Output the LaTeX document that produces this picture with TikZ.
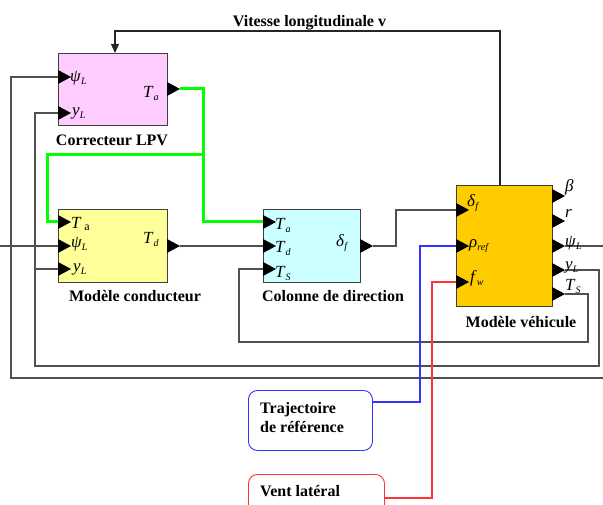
\documentclass[tikz,border=0pt]{standalone}
\usepackage{fontspec}
\setmainfont{Liberation Serif}
\usetikzlibrary{arrows.meta}
\definecolor{lpvpink}{HTML}{FFCCFF}
\definecolor{drvyellow}{HTML}{FFFF99}
\definecolor{colcyan}{HTML}{CCFFFF}
\definecolor{vehorange}{HTML}{FFCC00}
\definecolor{wiregray}{HTML}{505050}
\definecolor{edgegray}{HTML}{404040}
\definecolor{lgreen}{HTML}{00FF00}
\definecolor{refblue}{HTML}{3333FF}
\definecolor{windred}{HTML}{FF3333}
\newcommand{\sym}[2]{\textit{#1}\raisebox{-2.5pt}{\fontsize{10}{10}\selectfont\textit{#2}}}
\begin{document}
\begin{tikzpicture}[x=1pt,y=-1pt,
  blockbox/.style={draw=edgegray, line width=0.9pt, anchor=north west, inner sep=0pt},
  roundbox/.style={line width=0.9pt, rounded corners=9pt, fill=white, anchor=north west, inner sep=0pt},
  conn/.style={draw=wiregray, line width=1.2pt},
  greenw/.style={draw=lgreen, line width=3pt},
  bluew/.style={draw=refblue, line width=1.1pt},
  redw/.style={draw=windred, line width=1.1pt},
  title/.style={font=\fontsize{16}{19}\selectfont\bfseries, inner sep=0pt, anchor=base},
  sig/.style={font=\fontsize{17}{20}\selectfont, inner sep=0pt, anchor=base west},
  pics/porttri/.style={code={\fill[black] (0,-7) -- (13,0) -- (0,7) -- cycle;}}
]
\useasboundingbox (0,0) rectangle (603,505);
\clip (0,0) rectangle (603,505);

% ---------- blocks ----------
\node[blockbox, fill=lpvpink, minimum width=109pt, minimum height=72pt] (cor) at (58,53) {};
\node[blockbox, fill=drvyellow, minimum width=109pt, minimum height=73pt] (con) at (58,209) {};
\node[blockbox, fill=colcyan, minimum width=97pt, minimum height=73pt] (col) at (263,209) {};
\node[blockbox, fill=vehorange, minimum width=96pt, minimum height=121pt] (veh) at (456,185) {};
\node[roundbox, draw=refblue, minimum width=124pt, minimum height=60pt] (traj) at (248,390) {};
\node[roundbox, draw=windred, minimum width=136pt, minimum height=60pt] (vent) at (248,474) {};

% ---------- titles ----------
\node[title] (tvit) at (309.5,27) {Vitesse longitudinale v};
\node[title] (tcor) at (112,146) {Correcteur LPV};
\node[title] (tcon) at (135,302) {Modèle conducteur};
\node[title] (tcol) at (333,302) {Colonne de direction};
\node[title] (tveh) at (521,327) {Modèle véhicule};
\node[title, anchor=base west] (ttraj1) at (260,413) {Trajectoire};
\node[title, anchor=base west] (ttraj2) at (260,432) {de référence};
\node[title, anchor=base west] (tvent) at (260,496) {Vent latéral};

% ---------- ports ----------
\coordinate (corInPsi) at (58,77);
\coordinate (corInY) at (58,113);
\coordinate (corOut) at (167,89);
\coordinate (corOutTip) at (180,89);
\coordinate (corTop) at (115,53);
\coordinate (conInTa) at (58,222);
\coordinate (conInPsi) at (58,246);
\coordinate (conInY) at (58,269);
\coordinate (conOut) at (167,246);
\coordinate (conOutTip) at (180,246);
\coordinate (colInTa) at (263,222);
\coordinate (colInTd) at (263,246);
\coordinate (colInTs) at (263,269);
\coordinate (colOut) at (360,246);
\coordinate (colOutTip) at (373,246);
\coordinate (vehInD) at (456,210);
\coordinate (vehInRho) at (456,246);
\coordinate (vehInF) at (456,282);
\coordinate (vehOutB) at (552,196);
\coordinate (vehOutR) at (552,221);
\coordinate (vehOutPsi) at (552,246);
\coordinate (vehOutY) at (552,270);
\coordinate (vehOutTs) at (552,294);
\coordinate (vehOutPsiTip) at (565,246);
\coordinate (vehOutYTip) at (565,270);
\coordinate (vehOutTsTip) at (565,294);
\coordinate (vehTop) at (500,185);
\coordinate (trajOut) at (372,402);
\coordinate (ventOut) at (384,498);

% bends
\coordinate (velBend) at (115,31);
\coordinate (gSplit) at (203,155);
\coordinate (gLeft) at (47,155);
\coordinate (psiFar) at (612,246);
\coordinate (psiBot) at (11,378);
\coordinate (leftEdge) at (-2,246);
\coordinate (yFar) at (599,366);
\coordinate (yBot) at (35,366);
\coordinate (yBranch) at (35,269);
\coordinate (tsFar) at (588,342);
\coordinate (tsLeft) at (239,342);
\coordinate (dBend) at (396,246);
\coordinate (blueBend) at (420,246);
\coordinate (redBend) at (432,282);

% ---------- connectors ----------
\draw[conn, draw=black!85, -{Triangle[length=9pt,width=8pt]}] (vehTop) |- (velBend) -- (corTop);
\draw[greenw] (corOutTip) -| (gSplit) -- (gLeft) |- (conInTa);
\draw[greenw] (gSplit) |- (colInTa);
\draw[conn] (vehOutPsiTip) -- (psiFar) |- (psiBot) |- (corInPsi);
\draw[conn] (leftEdge) -- (conInPsi);
\draw[conn] (vehOutYTip) -| (yFar) -- (yBot) |- (corInY);
\draw[conn] (yBranch) -- (conInY);
\draw[conn] (conOutTip) -- (colInTd);
\draw[conn] (vehOutTsTip) -| (tsFar) -- (tsLeft) |- (colInTs);
\draw[conn] (colOutTip) -- (dBend) |- (vehInD);
\draw[bluew] (trajOut) -| (blueBend) -- (vehInRho);
\draw[redw] (ventOut) -| (redBend) -- (vehInF);

% ---------- port triangles ----------
\foreach \p in {corInPsi,corInY,corOut,conInTa,conInPsi,conInY,conOut,
                colInTa,colInTd,colInTs,colOut,vehInD,vehInRho,vehInF,
                vehOutB,vehOutR,vehOutPsi,vehOutY,vehOutTs}
  \pic at (\p) {porttri};

% ---------- signal labels ----------
\node[sig] (lcorPsi) at (70,82) {\sym{ψ}{L}};
\node[sig] (lcorY) at (72,116) {\sym{y}{L}};
\node[sig] (lcorTa) at (143,98) {\sym{T}{a}};
\node[sig] (lconTa) at (71,229) {\textit{T}\,\raisebox{-2pt}{\fontsize{12}{12}\selectfont a}};
\node[sig] (lconPsi) at (71,248) {\sym{ψ}{L}};
\node[sig] (lconY) at (73,272) {\sym{y}{L}};
\node[sig] (lconTd) at (143,244) {\sym{T}{d}};
\node[sig] (lcolTa) at (275,230) {\sym{T}{a}};
\node[sig] (lcolTd) at (275,253) {\sym{T}{d}};
\node[sig] (lcolTs) at (275,278) {\sym{T}{S}};
\node[sig] (lcolD) at (336,247) {\sym{δ}{f}};
\node[sig] (lvehD) at (467,207) {\sym{δ}{f}};
\node[sig] (lvehRho) at (469,248) {\sym{ρ}{ref}};
\node[sig] (lvehF) at (470,283) {\sym{f}{w}};
\node[sig] (lvehB) at (565,192) {\textit{β}};
\node[sig] (lvehR) at (565,218) {\textit{r}};
\node[sig] (lvehPsi) at (565,247) {\sym{ψ}{L}};
\node[sig] (lvehY) at (565,270) {\sym{y}{L}};
\node[sig] (lvehTs) at (565,291) {\sym{T}{S}};
\end{tikzpicture}
\end{document}
